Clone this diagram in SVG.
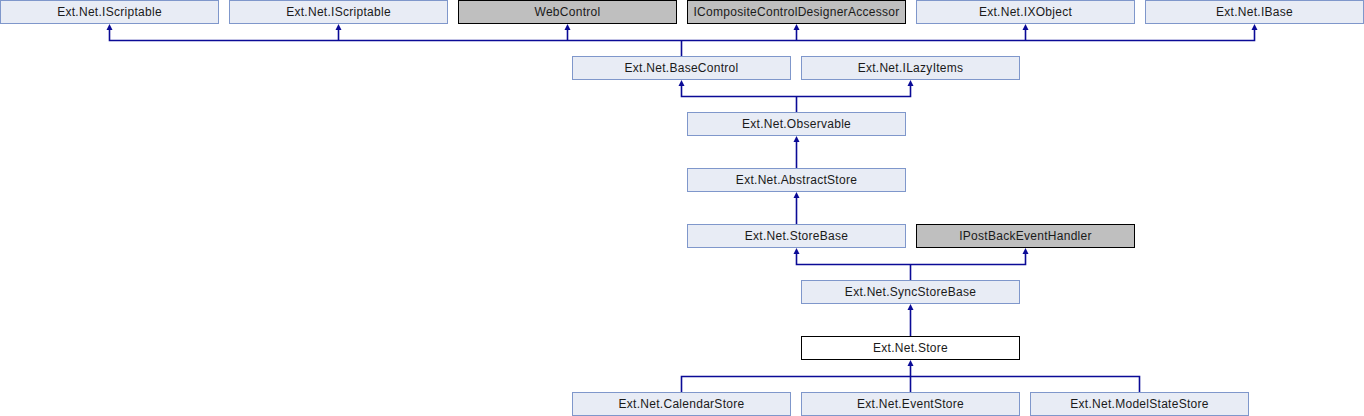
<svg xmlns="http://www.w3.org/2000/svg" width="1364" height="416" viewBox="0 0 1364 416">
<style>
.n rect{fill:#E8ECF5;stroke:#7F97CB;stroke-width:1}
.g rect{fill:#BFBFBF;stroke:#000;stroke-width:1}
.w rect{fill:#FFFFFF;stroke:#000;stroke-width:1}
text{font-family:"Liberation Sans",Arial,sans-serif;font-size:12px;letter-spacing:0.28px;fill:#1a1a1a;text-anchor:middle}
.e path{fill:none;stroke:#0A0A96;stroke-width:1.6}
.e polygon{fill:#0A0A96}
</style>
<g class="e" id="connectors">
<path d="M109.5,30 V40.5 H1254.5 V30"/>
<path d="M338.5,30 V40.5"/>
<path d="M567.5,30 V40.5"/>
<path d="M796.5,30 V40.5"/>
<path d="M1025.5,30 V40.5"/>
<path d="M681.5,40.5 V56"/>
<polygon points="106.5,30 109.5,24 112.5,30"/>
<polygon points="335.5,30 338.5,24 341.5,30"/>
<polygon points="564.5,30 567.5,24 570.5,30"/>
<polygon points="793.5,30 796.5,24 799.5,30"/>
<polygon points="1022.5,30 1025.5,24 1028.5,30"/>
<polygon points="1251.5,30 1254.5,24 1257.5,30"/>
<path d="M681.5,86 V96.5 H910.5 V86"/>
<path d="M796.5,96.5 V112"/>
<polygon points="678.5,86 681.5,80 684.5,86"/>
<polygon points="907.5,86 910.5,80 913.5,86"/>
<path d="M796.5,142 V168"/>
<polygon points="793.5,142 796.5,136 799.5,142"/>
<path d="M796.5,198 V224"/>
<polygon points="793.5,198 796.5,192 799.5,198"/>
<path d="M796.5,254 V264.5 H1025.5 V254"/>
<path d="M910.5,264.5 V280"/>
<polygon points="793.5,254 796.5,248 799.5,254"/>
<polygon points="1022.5,254 1025.5,248 1028.5,254"/>
<path d="M910.5,310 V336"/>
<polygon points="907.5,310 910.5,304 913.5,310"/>
<path d="M910.5,366 V392"/>
<path d="M681.5,392 V376.5 H1139.5 V392"/>
<polygon points="907.5,366 910.5,360 913.5,366"/>
</g>
<g id="IScriptable1" class="n"><rect x="0.5" y="0.5" width="218" height="23"/><text x="109.5" y="16">Ext.Net.IScriptable</text></g>
<g id="IScriptable2" class="n"><rect x="229.5" y="0.5" width="218" height="23"/><text x="338.5" y="16">Ext.Net.IScriptable</text></g>
<g id="WebControl" class="g"><rect x="458.5" y="0.5" width="218" height="23"/><text x="567.5" y="16">WebControl</text></g>
<g id="ICompositeControlDesignerAccessor" class="g"><rect x="687.5" y="0.5" width="218" height="23"/><text x="796.5" y="16">ICompositeControlDesignerAccessor</text></g>
<g id="IXObject" class="n"><rect x="916.5" y="0.5" width="218" height="23"/><text x="1025.5" y="16">Ext.Net.IXObject</text></g>
<g id="IBase" class="n"><rect x="1145.5" y="0.5" width="218" height="23"/><text x="1254.5" y="16">Ext.Net.IBase</text></g>
<g id="BaseControl" class="n"><rect x="572.5" y="56.5" width="218" height="23"/><text x="681.5" y="72">Ext.Net.BaseControl</text></g>
<g id="ILazyItems" class="n"><rect x="801.5" y="56.5" width="218" height="23"/><text x="910.5" y="72">Ext.Net.ILazyItems</text></g>
<g id="Observable" class="n"><rect x="687.5" y="112.5" width="218" height="23"/><text x="796.5" y="128">Ext.Net.Observable</text></g>
<g id="AbstractStore" class="n"><rect x="687.5" y="168.5" width="218" height="23"/><text x="796.5" y="184">Ext.Net.AbstractStore</text></g>
<g id="StoreBase" class="n"><rect x="687.5" y="224.5" width="218" height="23"/><text x="796.5" y="240">Ext.Net.StoreBase</text></g>
<g id="IPostBackEventHandler" class="g"><rect x="916.5" y="224.5" width="218" height="23"/><text x="1025.5" y="240">IPostBackEventHandler</text></g>
<g id="SyncStoreBase" class="n"><rect x="801.5" y="280.5" width="218" height="23"/><text x="910.5" y="296">Ext.Net.SyncStoreBase</text></g>
<g id="Store" class="w"><rect x="801.5" y="336.5" width="218" height="23"/><text x="910.5" y="352">Ext.Net.Store</text></g>
<g id="CalendarStore" class="n"><rect x="572.5" y="392.5" width="218" height="23"/><text x="681.5" y="408">Ext.Net.CalendarStore</text></g>
<g id="EventStore" class="n"><rect x="801.5" y="392.5" width="218" height="23"/><text x="910.5" y="408">Ext.Net.EventStore</text></g>
<g id="ModelStateStore" class="n"><rect x="1030.5" y="392.5" width="218" height="23"/><text x="1139.5" y="408">Ext.Net.ModelStateStore</text></g>
</svg>
